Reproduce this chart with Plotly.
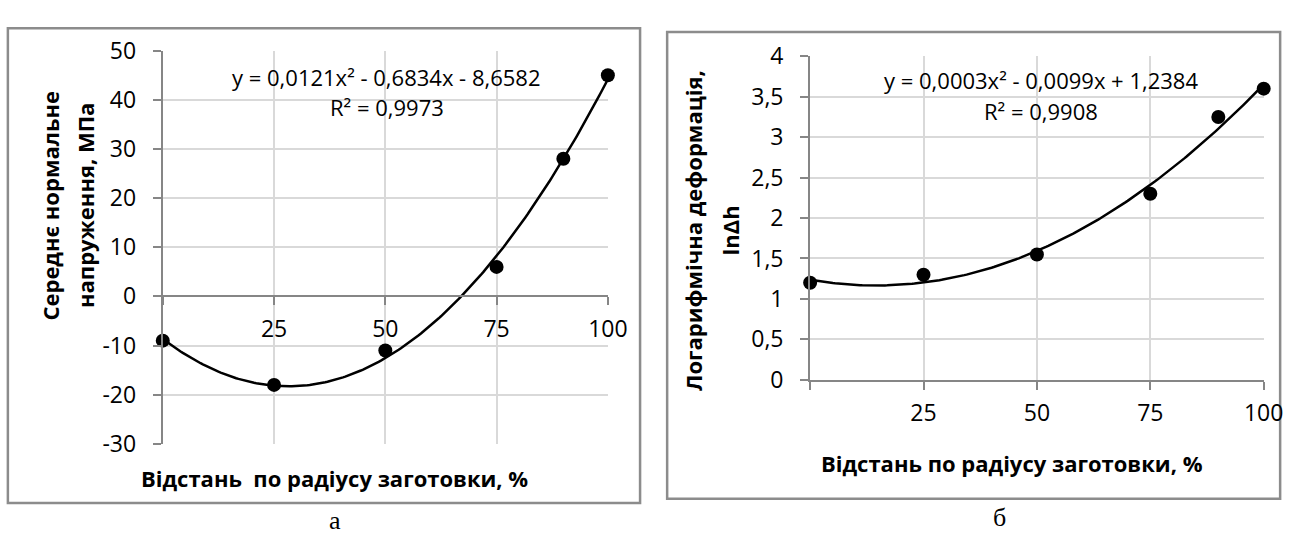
import numpy as np
import plotly.graph_objects as go

# ---- data ----
x_a = [0, 25, 50, 75, 90, 100]
y_a = [-9, -18, -11, 6, 28, 45]
x_b = [0, 25, 50, 75, 90, 100]
y_b = [1.2, 1.3, 1.55, 2.3, 3.25, 3.6]

x_ticks = [0, 25, 50, 75, 100]
x_ticktext = ["", "25", "50", "75", "100"]
y_ticks_a = [-30, -20, -10, 0, 10, 20, 30, 40, 50]
y_ticktext_a = [str(v) for v in y_ticks_a]   # plain hyphen minus, as in the original

eq_a = "y = 0,0121x² - 0,6834x - 8,6582"
r2_a = "R² = 0,9973"
eq_b = "y = 0,0003x² - 0,0099x + 1,2384"
r2_b = "R² = 0,9908"

ytitle_a = ["Середнє нормальне", "напруження, МПа"]
ytitle_b = ["Логарифмічна деформація,", "lnΔh"]
xtitle_a = "Відстань  по радіусу заготовки, %"
xtitle_b = "Відстань по радіусу заготовки, %"
cap_a = "а"
cap_b = "б"

# ---- geometry helpers ----
W, H = 1309, 549
def px(x):
    return x / W
def py(y):
    return 1 - y / H

AX = "#868686"
GR = "#d9d9d9"
FONT = "Open Sans"

# quadratic trendlines (least squares, as the spreadsheet does)
xs = np.linspace(0, 100, 201)
ca = np.polyfit(x_a, y_a, 2)
cb = np.polyfit(x_b, y_b, 2)

fig = go.Figure()
fig.add_trace(go.Scatter(x=xs, y=np.polyval(ca, xs), mode="lines",
                         line=dict(color="black", width=2.5),
                         xaxis="x", yaxis="y", cliponaxis=False, showlegend=False))
fig.add_trace(go.Scatter(x=x_a, y=y_a, mode="markers",
                         marker=dict(color="black", size=14),
                         xaxis="x", yaxis="y", cliponaxis=False, showlegend=False))
fig.add_trace(go.Scatter(x=xs, y=np.polyval(cb, xs), mode="lines",
                         line=dict(color="black", width=2.5),
                         xaxis="x2", yaxis="y2", cliponaxis=False, showlegend=False))
fig.add_trace(go.Scatter(x=x_b, y=y_b, mode="markers",
                         marker=dict(color="black", size=14),
                         xaxis="x2", yaxis="y2", cliponaxis=False, showlegend=False))

tickfont = dict(family=FONT, size=23, color="black")
common = dict(showline=True, linecolor=AX, linewidth=2, ticks="outside", ticklen=8,
              tickwidth=2, tickcolor=AX, showgrid=True, gridcolor=GR, gridwidth=2,
              zeroline=False, tickfont=tickfont, fixedrange=True)

fig.update_layout(
    width=W, height=H, autosize=False,
    margin=dict(l=0, r=0, t=0, b=0, pad=0),
    paper_bgcolor="white", plot_bgcolor="white",
    separators=", ",
    showlegend=False,
    hovermode=False,
    xaxis=dict(domain=[px(165.3), px(617.3)], range=[0, 100], tickmode="array",
               tickvals=x_ticks, ticktext=x_ticktext, anchor="free",
               position=py(296.5), ticklabelstandoff=4, **common),
    yaxis=dict(domain=[py(453.3), py(35.7)], range=[-30, 50], tickmode="array",
               tickvals=y_ticks_a, ticktext=y_ticktext_a,
               anchor="x", ticklabelstandoff=12, **common),
    xaxis2=dict(domain=[px(822.7), px(1283.3)], range=[0, 100], tickmode="array",
                tickvals=x_ticks, ticktext=x_ticktext, anchor="y2",
                ticklabelstandoff=4, **common),
    yaxis2=dict(domain=[py(385.3), py(41.7)], range=[0, 4], dtick=0.5, tick0=0,
                anchor="x2", ticklabelstandoff=12, **common),
)

# panel frames
fig.add_shape(type="rect", xref="paper", yref="paper",
              x0=px(8), x1=px(650), y0=py(516), y1=py(12),
              line=dict(color="#8c8c8c", width=2.5), fillcolor="rgba(0,0,0,0)", layer="below")
fig.add_shape(type="rect", xref="paper", yref="paper",
              x0=px(677.5), x1=px(1300), y0=py(511.5), y1=py(16),
              line=dict(color="#8c8c8c", width=2.5), fillcolor="rgba(0,0,0,0)", layer="below")

def ann(text, x, y, size, bold=False, angle=0, family=FONT):
    t = f"<b>{text}</b>" if bold else text
    fig.add_annotation(text=t, xref="paper", yref="paper", x=px(x), y=py(y),
                       xanchor="center", yanchor="middle", showarrow=False,
                       textangle=angle, borderpad=0,
                       font=dict(family=family, size=size, color="black"))

# equations
ann(eq_a, 392, 64, 22)
ann(r2_a, 393, 96, 22)
ann(eq_b, 1057, 67, 22)
ann(r2_b, 1057, 100, 22)

# axis titles
ann(ytitle_a[0], 51, 200, 22, bold=True, angle=-90)
ann(ytitle_a[1], 87, 200, 22, bold=True, angle=-90)
ann(ytitle_b[0], 704, 227, 22, bold=True, angle=-90)
ann(ytitle_b[1], 741, 227, 22, bold=True, angle=-90)
ann(xtitle_a, 340, 490, 22, bold=True)
ann(xtitle_b, 1028, 474, 22, bold=True)

# captions
ann(cap_a, 340, 535, 26, family="Liberation Serif")
ann(cap_b, 1015, 531, 26, family="Liberation Serif")

fig.write_html("out.html",
               config={"displayModeBar": False, "staticPlot": True},
               post_script="document.body.style.margin='0';document.body.style.padding='0';")
